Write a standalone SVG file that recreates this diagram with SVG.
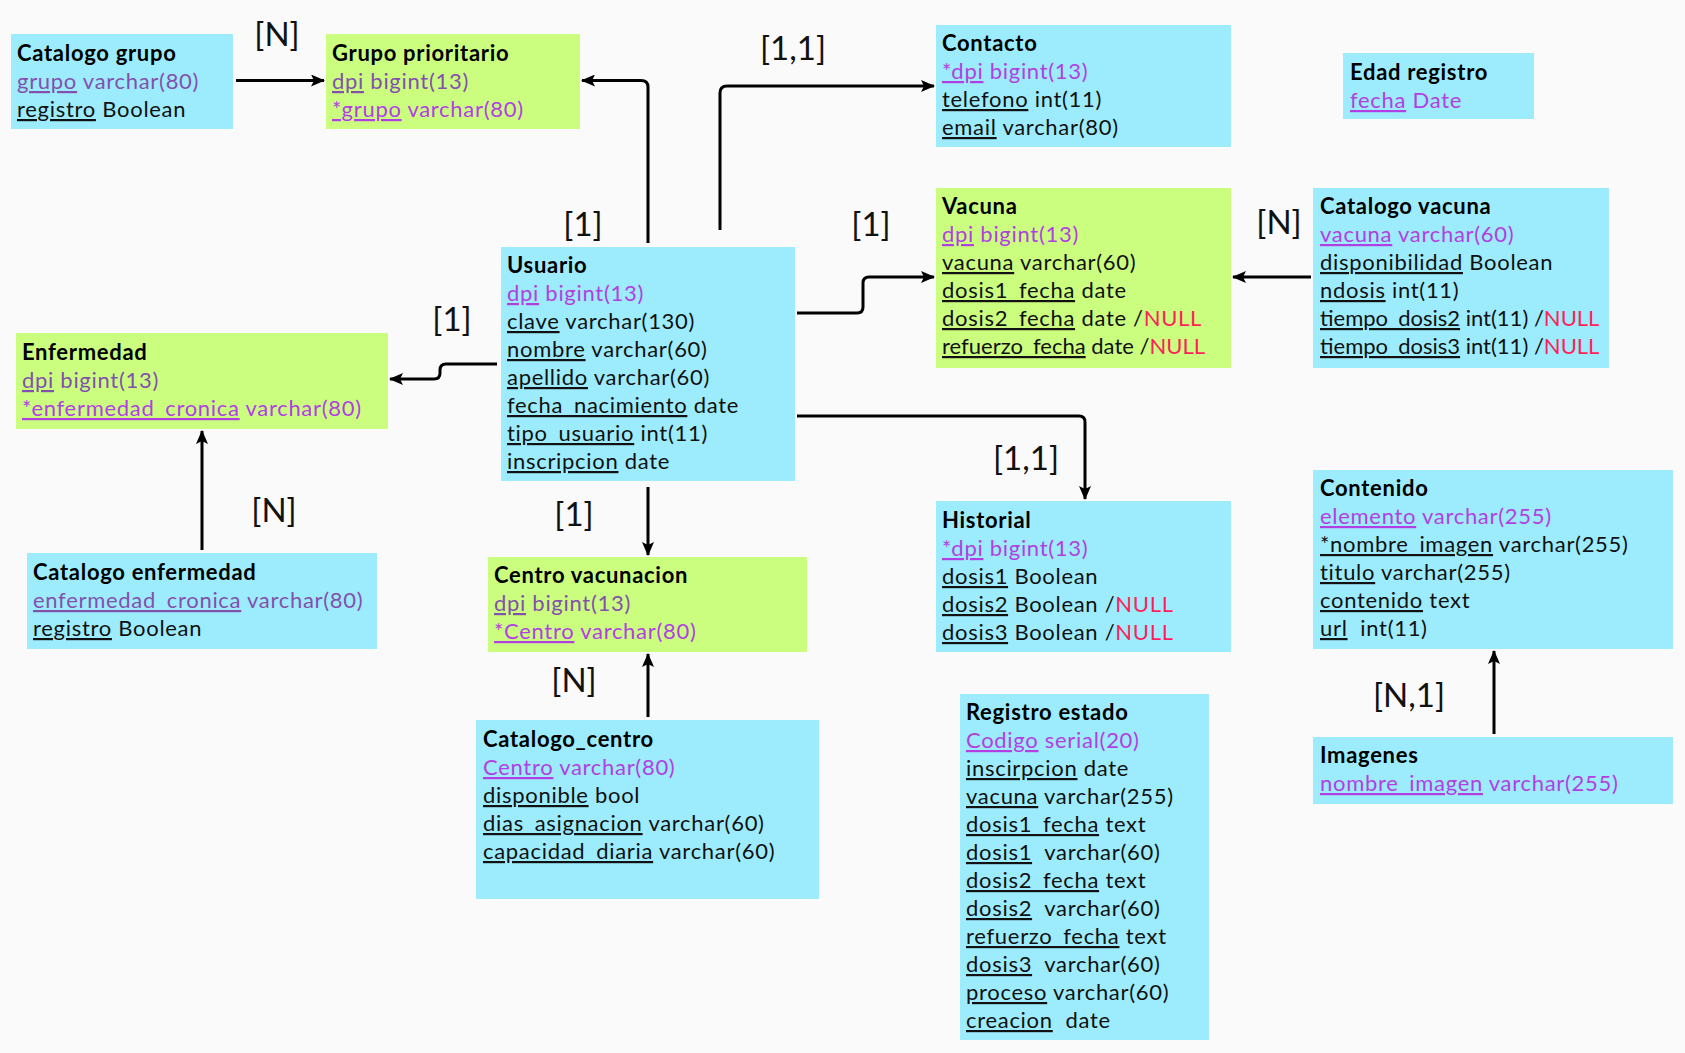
<svg xmlns="http://www.w3.org/2000/svg" width="1685" height="1053" viewBox="0 0 1685 1053">
<style>
  .bg{fill:#fafafa}
  .cy{fill:#9decfd}
  .gr{fill:#cbfe7f}
  text{font-family:Lato,"Liberation Sans",sans-serif;font-size:22px;letter-spacing:0.7px;fill:#111}
  .t{font-weight:bold;fill:#000}
  .u{text-decoration:underline}
  .k{fill:#b23fe3}
  .m{fill:#8350ad}
  .n{fill:#ff1f5a}
  .tight{letter-spacing:0}
  .lb{font-family:Lato,"Liberation Sans",sans-serif;font-size:33px;letter-spacing:0;fill:#111;text-anchor:middle}
  .c{fill:none;stroke:#000;stroke-width:3}
</style>
<defs>
  <marker id="ah" markerWidth="14" markerHeight="12" refX="13" refY="6" orient="auto" markerUnits="userSpaceOnUse">
    <path d="M0,0 L14,6 L0,12 L3,6 Z" fill="#000"/>
  </marker>
</defs>
<rect class="bg" x="0" y="0" width="1685" height="1053"/>

<g id="connectors">
  <path class="c" d="M236,80.5 H324" marker-end="url(#ah)"/>
  <path class="c" d="M648,243 V87 Q648,80.5 641,80.5 H582" marker-end="url(#ah)"/>
  <path class="c" d="M720,230 V93 Q720,86 727,86 H934" marker-end="url(#ah)"/>
  <path class="c" d="M797,313 H857 Q863,313 863,307 V283 Q863,277 869,277 H934" marker-end="url(#ah)"/>
  <path class="c" d="M1311,277 H1233" marker-end="url(#ah)"/>
  <path class="c" d="M497,364 H446 Q440,364 440,370 V373 Q440,379 434,379 H390" marker-end="url(#ah)"/>
  <path class="c" d="M202,550 V431" marker-end="url(#ah)"/>
  <path class="c" d="M648,487 V555" marker-end="url(#ah)"/>
  <path class="c" d="M648,717 V654" marker-end="url(#ah)"/>
  <path class="c" d="M797,416 H1079 Q1085,416 1085,422 V499" marker-end="url(#ah)"/>
  <path class="c" d="M1494,734 V651" marker-end="url(#ah)"/>
</g>

<g id="labels">
  <text class="lb" x="277" y="46">[N]</text>
  <text class="lb" x="793" y="60">[1,1]</text>
  <text class="lb" x="583" y="236">[1]</text>
  <text class="lb" x="871" y="236">[1]</text>
  <text class="lb" x="1279" y="234">[N]</text>
  <text class="lb" x="452" y="331">[1]</text>
  <text class="lb" x="274" y="522">[N]</text>
  <text class="lb" x="574" y="526">[1]</text>
  <text class="lb" x="574" y="692">[N]</text>
  <text class="lb" x="1026" y="470">[1,1]</text>
  <text class="lb" x="1409" y="707">[N,1]</text>
</g>

<g id="catalogo-grupo">
  <rect class="cy" x="11" y="34" width="222" height="95"/>
  <text class="t" x="17" y="61">Catalogo grupo</text>
  <text x="17" y="89" class="m"><tspan class="u">grupo</tspan> varchar(80)</text>
  <text x="17" y="117"><tspan class="u">registro</tspan> Boolean</text>
</g>

<g id="grupo-prioritario">
  <rect class="gr" x="326" y="34" width="254" height="95"/>
  <text class="t" x="332" y="61">Grupo prioritario</text>
  <text x="332" y="89" class="m"><tspan class="u">dpi</tspan> bigint(13)</text>
  <text x="332" y="117" class="k"><tspan class="u">*grupo</tspan> varchar(80)</text>
</g>

<g id="contacto">
  <rect class="cy" x="936" y="25" width="295" height="122"/>
  <text class="t" x="942" y="51">Contacto</text>
  <text x="942" y="79" class="k"><tspan class="u">*dpi</tspan> bigint(13)</text>
  <text x="942" y="107"><tspan class="u">telefono</tspan> int(11)</text>
  <text x="942" y="135"><tspan class="u">email</tspan> varchar(80)</text>
</g>

<g id="edad-registro">
  <rect class="cy" x="1343" y="53" width="191" height="66"/>
  <text class="t" x="1350" y="80">Edad registro</text>
  <text x="1350" y="108" class="k"><tspan class="u">fecha</tspan> Date</text>
</g>

<g id="vacuna">
  <rect class="gr" x="936" y="188" width="295" height="180"/>
  <text class="t" x="942" y="214">Vacuna</text>
  <text x="942" y="242" class="k"><tspan class="u">dpi</tspan> bigint(13)</text>
  <text x="942" y="270"><tspan class="u">vacuna</tspan> varchar(60)</text>
  <text x="942" y="298"><tspan class="u">dosis1_fecha</tspan> date</text>
  <text x="942" y="326"><tspan class="u">dosis2_fecha</tspan> date /<tspan class="n">NULL</tspan></text>
  <text x="942" y="354" class="tight"><tspan class="u">refuerzo_fecha</tspan> date /<tspan class="n">NULL</tspan></text>
</g>

<g id="catalogo-vacuna">
  <rect class="cy" x="1313" y="188" width="296" height="180"/>
  <text class="t" x="1320" y="214">Catalogo vacuna</text>
  <text x="1320" y="242" class="k"><tspan class="u">vacuna</tspan> varchar(60)</text>
  <text x="1320" y="270"><tspan class="u">disponibilidad</tspan> Boolean</text>
  <text x="1320" y="298"><tspan class="u">ndosis</tspan> int(11)</text>
  <text x="1320" y="326" class="tight"><tspan class="u">tiempo_dosis2</tspan> int(11) /<tspan class="n">NULL</tspan></text>
  <text x="1320" y="354" class="tight"><tspan class="u">tiempo_dosis3</tspan> int(11) /<tspan class="n">NULL</tspan></text>
</g>

<g id="usuario">
  <rect class="cy" x="501" y="247" width="294" height="234"/>
  <text class="t" x="507" y="273">Usuario</text>
  <text x="507" y="301" class="k"><tspan class="u">dpi</tspan> bigint(13)</text>
  <text x="507" y="329"><tspan class="u">clave</tspan> varchar(130)</text>
  <text x="507" y="357"><tspan class="u">nombre</tspan> varchar(60)</text>
  <text x="507" y="385"><tspan class="u">apellido</tspan> varchar(60)</text>
  <text x="507" y="413"><tspan class="u">fecha_nacimiento</tspan> date</text>
  <text x="507" y="441"><tspan class="u">tipo_usuario</tspan> int(11)</text>
  <text x="507" y="469"><tspan class="u">inscripcion</tspan> date</text>
</g>

<g id="enfermedad">
  <rect class="gr" x="16" y="333" width="372" height="96"/>
  <text class="t" x="22" y="360">Enfermedad</text>
  <text x="22" y="388" class="m"><tspan class="u">dpi</tspan> bigint(13)</text>
  <text x="22" y="416" class="k"><tspan class="u">*enfermedad_cronica</tspan> varchar(80)</text>
</g>

<g id="catalogo-enfermedad">
  <rect class="cy" x="27" y="553" width="350" height="96"/>
  <text class="t" x="33" y="580">Catalogo enfermedad</text>
  <text x="33" y="608" class="m"><tspan class="u">enfermedad_cronica</tspan> varchar(80)</text>
  <text x="33" y="636"><tspan class="u">registro</tspan> Boolean</text>
</g>

<g id="centro-vacunacion">
  <rect class="gr" x="488" y="557" width="319" height="95"/>
  <text class="t" x="494" y="583">Centro vacunacion</text>
  <text x="494" y="611" class="m"><tspan class="u">dpi</tspan> bigint(13)</text>
  <text x="494" y="639" class="k"><tspan class="u">*Centro</tspan> varchar(80)</text>
</g>

<g id="catalogo-centro">
  <rect class="cy" x="476" y="720" width="343" height="179"/>
  <text class="t" x="483" y="747">Catalogo_centro</text>
  <text x="483" y="775" class="k"><tspan class="u">Centro</tspan> varchar(80)</text>
  <text x="483" y="803"><tspan class="u">disponible</tspan> bool</text>
  <text x="483" y="831"><tspan class="u">dias_asignacion</tspan> varchar(60)</text>
  <text x="483" y="859"><tspan class="u">capacidad_diaria</tspan> varchar(60)</text>
</g>

<g id="historial">
  <rect class="cy" x="936" y="501" width="295" height="151"/>
  <text class="t" x="942" y="528">Historial</text>
  <text x="942" y="556" class="k"><tspan class="u">*dpi</tspan> bigint(13)</text>
  <text x="942" y="584"><tspan class="u">dosis1</tspan> Boolean</text>
  <text x="942" y="612"><tspan class="u">dosis2</tspan> Boolean /<tspan class="n">NULL</tspan></text>
  <text x="942" y="640"><tspan class="u">dosis3</tspan> Boolean /<tspan class="n">NULL</tspan></text>
</g>

<g id="registro-estado">
  <rect class="cy" x="960" y="694" width="249" height="346"/>
  <text class="t" x="966" y="720">Registro estado</text>
  <text x="966" y="748" class="k"><tspan class="u">Codigo</tspan> serial(20)</text>
  <text x="966" y="776"><tspan class="u">inscirpcion</tspan> date</text>
  <text x="966" y="804"><tspan class="u">vacuna</tspan> varchar(255)</text>
  <text x="966" y="832"><tspan class="u">dosis1_fecha</tspan> text</text>
  <text x="966" y="860" xml:space="preserve"><tspan class="u">dosis1</tspan>  varchar(60)</text>
  <text x="966" y="888"><tspan class="u">dosis2_fecha</tspan> text</text>
  <text x="966" y="916" xml:space="preserve"><tspan class="u">dosis2</tspan>  varchar(60)</text>
  <text x="966" y="944"><tspan class="u">refuerzo_fecha</tspan> text</text>
  <text x="966" y="972" xml:space="preserve"><tspan class="u">dosis3</tspan>  varchar(60)</text>
  <text x="966" y="1000"><tspan class="u">proceso</tspan> varchar(60)</text>
  <text x="966" y="1028" xml:space="preserve"><tspan class="u">creacion</tspan>  date</text>
</g>

<g id="contenido">
  <rect class="cy" x="1313" y="470" width="360" height="179"/>
  <text class="t" x="1320" y="496">Contenido</text>
  <text x="1320" y="524" class="k"><tspan class="u">elemento</tspan> varchar(255)</text>
  <text x="1320" y="552"><tspan class="u">*nombre_imagen</tspan> varchar(255)</text>
  <text x="1320" y="580"><tspan class="u">titulo</tspan> varchar(255)</text>
  <text x="1320" y="608"><tspan class="u">contenido</tspan> text</text>
  <text x="1320" y="636" xml:space="preserve"><tspan class="u">url</tspan>  int(11)</text>
</g>

<g id="imagenes">
  <rect class="cy" x="1313" y="737" width="360" height="67"/>
  <text class="t" x="1320" y="763">Imagenes</text>
  <text x="1320" y="791" class="k"><tspan class="u">nombre_imagen</tspan> varchar(255)</text>
</g>
</svg>
